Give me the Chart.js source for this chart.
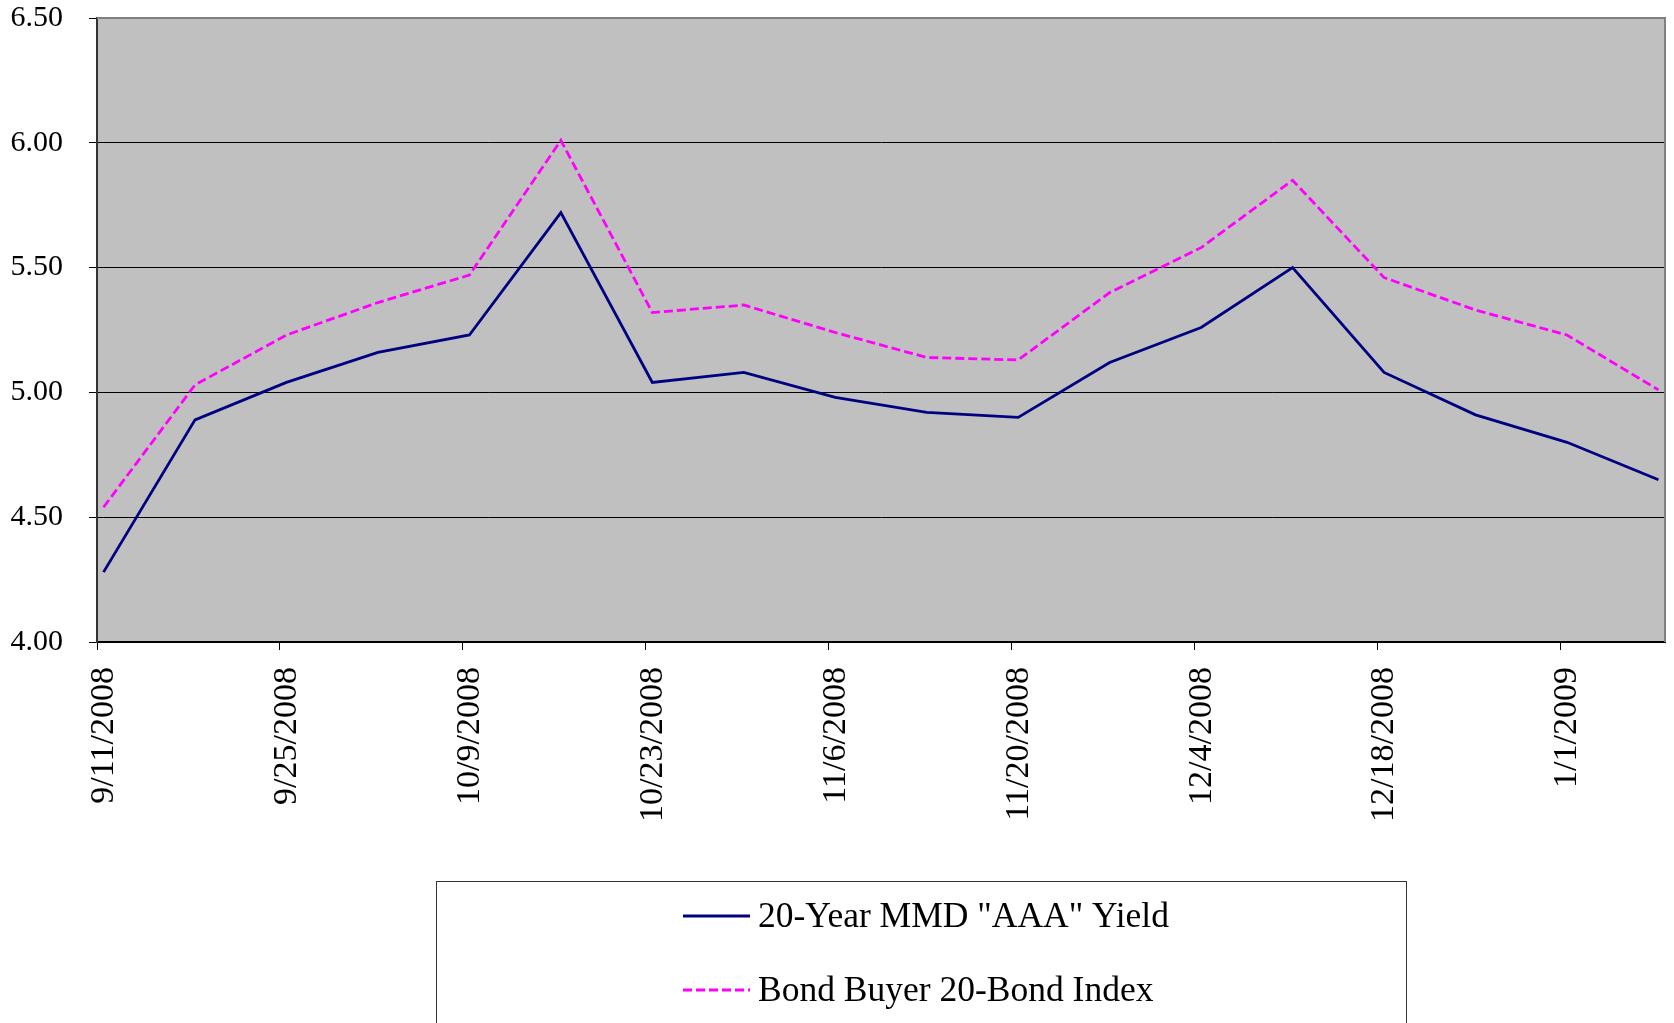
<!DOCTYPE html>
<html>
<head>
<meta charset="utf-8">
<script src="https://cdn.jsdelivr.net/npm/chart.js@4.4.1/dist/chart.umd.min.js"></script>
<style>
  body { margin: 0; background: #fff; }
  #wrap { width: 1674px; height: 1023px; }
</style>
</head>
<body>
<div id="wrap"><canvas id="yieldChart" width="1674" height="1023"></canvas></div>
<script>
// weekly readings, 9/11/2008 - 1/8/2009
const dates = ['9/11/2008', '9/18/2008', '9/25/2008', '10/2/2008', '10/9/2008', '10/16/2008',
  '10/23/2008', '10/30/2008', '11/6/2008', '11/13/2008', '11/20/2008', '11/27/2008',
  '12/4/2008', '12/11/2008', '12/18/2008', '12/25/2008', '1/1/2009', '1/8/2009'];
const mmdYield = [4.28, 4.89, 5.04, 5.16, 5.23, 5.72, 5.04, 5.08, 4.98, 4.92, 4.90, 5.12,
  5.26, 5.50, 5.08, 4.91, 4.80, 4.65];
const bondBuyer = [4.54, 5.03, 5.23, 5.36, 5.47, 6.01, 5.32, 5.35, 5.24, 5.14, 5.13, 5.40,
  5.58, 5.85, 5.46, 5.33, 5.23, 5.01];
const yTicks = [4.00, 4.50, 5.00, 5.50, 6.00, 6.50];
const seriesNames = ['20-Year MMD "AAA" Yield', 'Bond Buyer 20-Bond Index'];

const DAY = 86400000;
const start = new Date(dates[0]);
const dayOf = (s) => Math.round((new Date(s) - start) / DAY);
// excel date axis puts each point in the middle of its day
const toPoints = (vals) => vals.map((v, i) => ({ x: dayOf(dates[i]) + 0.5, y: v }));
const fmtDate = (d) => {
  const dt = new Date(start.getTime() + d * DAY + 12 * 3600000);
  return (dt.getMonth() + 1) + '/' + dt.getDate() + '/' + dt.getFullYear();
};

const serif = '"Liberation Serif", "DejaVu Serif", serif';

const plotFrame = {
  id: 'plotFrame',
  beforeDraw(chart) {
    const { ctx, chartArea: a } = chart;
    ctx.save();
    ctx.fillStyle = '#fff';
    ctx.fillRect(0, 0, chart.width, chart.height);
    ctx.fillStyle = '#C0C0C0';
    ctx.fillRect(a.left, a.top, a.right - a.left, a.bottom - a.top);
    ctx.restore();
  },
  afterDraw(chart) {
    const { ctx, chartArea: a } = chart;
    ctx.save();
    ctx.strokeStyle = '#808080';
    ctx.lineWidth = 2;
    ctx.beginPath();
    ctx.moveTo(a.left, a.top);
    ctx.lineTo(a.right, a.top);
    ctx.lineTo(a.right, a.bottom);
    ctx.stroke();

    // legend box
    ctx.strokeStyle = '#333';
    ctx.lineWidth = 1;
    ctx.strokeRect(436.5, 881.5, 970, 200);
    ctx.font = '35.5px ' + serif;
    ctx.fillStyle = '#000';
    ctx.textBaseline = 'middle';
    const rows = [916, 990];
    chart.data.datasets.forEach((ds, i) => {
      ctx.strokeStyle = ds.borderColor;
      ctx.lineWidth = ds.borderWidth;
      ctx.setLineDash(ds.borderDash || []);
      ctx.beginPath();
      ctx.moveTo(683, rows[i]);
      ctx.lineTo(750, rows[i]);
      ctx.stroke();
      ctx.setLineDash([]);
      ctx.fillText(ds.label, 758, rows[i] + 2);
    });
    ctx.restore();
  }
};

new Chart(document.getElementById('yieldChart'), {
  type: 'line',
  data: {
    datasets: [{
      label: seriesNames[0],
      data: toPoints(mmdYield),
      borderColor: '#000080',
      borderWidth: 2.8,
      pointRadius: 0,
      tension: 0
    }, {
      label: seriesNames[1],
      data: toPoints(bondBuyer),
      borderColor: '#FF00FF',
      borderWidth: 2.8,
      borderDash: [9, 4],
      pointRadius: 0,
      tension: 0
    }]
  },
  options: {
    responsive: false,
    animation: false,
    layout: { padding: { top: 18, right: 9, left: 0, bottom: 181 } },
    plugins: {
      legend: { display: false },
      tooltip: { enabled: false }
    },
    scales: {
      x: {
        type: 'linear',
        min: 0,
        max: 120,
        afterFit: (s) => { s.height = 200; s.paddingLeft = 0; s.paddingRight = 0; },
        grid: { drawOnChartArea: false, drawTicks: true, tickLength: 8, color: '#000' },
        border: { color: '#000', width: 2 },
        ticks: {
          stepSize: 14,
          includeBounds: false,
          minRotation: 90,
          maxRotation: 90,
          padding: 17,
          labelOffset: 7,
          color: '#000',
          font: { family: serif, size: 34 },
          callback: (v) => fmtDate(v)
        }
      },
      y: {
        min: yTicks[0],
        max: yTicks[yTicks.length - 1],
        afterFit: (s) => { s.width = 97; s.paddingTop = 0; s.paddingBottom = 0; },
        afterBuildTicks: (s) => { s.ticks = yTicks.map(v => ({ value: v })); },
        grid: { color: '#000', lineWidth: 1, tickLength: 8 },
        border: { color: '#333', width: 2 },
        ticks: {
          padding: 26,
          color: '#000',
          font: { family: serif, size: 30 },
          callback: (v) => v.toFixed(2)
        }
      }
    }
  },
  plugins: [plotFrame]
});
</script>
</body>
</html>
